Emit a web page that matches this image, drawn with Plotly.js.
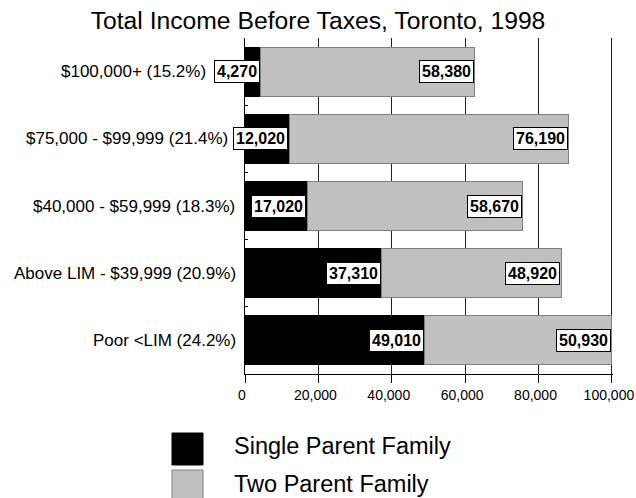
<!DOCTYPE html>
<html>
<head>
<meta charset="utf-8">
<script src="https://cdn.plot.ly/plotly-3.0.1.min.js"></script>
<style>html,body{margin:0;padding:0;background:#fff;}</style>
</head>
<body>
<div id="chart" style="width:636px;height:498px;"></div>
<script>
// Data (top to bottom as in the reference)
const categories = ['$100,000+ (15.2%)', '$75,000 - $99,999 (21.4%)', '$40,000 - $59,999 (18.3%)', 'Above LIM - $39,999 (20.9%)', 'Poor <LIM (24.2%)'];
const singleParent = [4270, 12020, 17020, 37310, 49010];
const twoParent = [58380, 76190, 58670, 48920, 50930];
const seriesNames = ['Single Parent Family', 'Two Parent Family'];
const chartTitle = 'Total Income Before Taxes, Toronto, 1998';
const xTickValues = [0, 20000, 40000, 60000, 80000, 100000];

// layout-only: where each category label ends, in pixels left of the axis
const labelShift = [-38, -16, -9, -8, -8];

const FONT = 'Liberation Sans, Arial, sans-serif';
const esc = s => s.replace(/&/g, '&amp;').replace(/</g, '&lt;').replace(/>/g, '&gt;');
const cats = categories.map(esc);
const fmt = v => v.toLocaleString('en-US');

const traces = [
  {type: 'bar', orientation: 'h', name: seriesNames[0], y: cats, x: singleParent,
   marker: {color: '#000000', line: {color: '#000000', width: 1}}, hoverinfo: 'x+y'},
  {type: 'bar', orientation: 'h', name: seriesNames[1], y: cats, x: twoParent,
   marker: {color: '#c0c0c0', line: {color: '#7f7f7f', width: 1}}, hoverinfo: 'x+y'}
];

const ann = [];
const lblFont = {family: FONT, size: 16, color: '#000'};
categories.forEach((c, i) => {
  // category label
  ann.push({x: 0, xref: 'paper', y: cats[i], yref: 'y', text: cats[i], showarrow: false,
    xanchor: 'right', yanchor: 'middle', xshift: labelShift[i], borderpad: 0,
    font: {family: FONT, size: 17, color: '#000'}});
  ann.push({x: singleParent[i], y: cats[i], xref: 'x', yref: 'y', text: '<b>' + fmt(singleParent[i]) + '</b>',
    showarrow: false, xanchor: 'right', yanchor: 'middle', xshift: -1, font: lblFont,
    bgcolor: '#ffffff', bordercolor: '#000000', borderwidth: 1, borderpad: 2});
  ann.push({x: singleParent[i] + twoParent[i], y: cats[i], xref: 'x', yref: 'y', text: '<b>' + fmt(twoParent[i]) + '</b>',
    showarrow: false, xanchor: 'right', yanchor: 'middle', xshift: -1, font: lblFont,
    bgcolor: '#ffffff', bordercolor: '#000000', borderwidth: 1, borderpad: 2});
});

// custom legend (large swatches)
const legX0 = -0.1984, legX1 = -0.1141, legTextX = -0.0353;
const legY = [[-0.1756, -0.2708], [-0.2857, -0.381]];
const legTextY = [-0.2143, -0.3274];
const swatch = [{fill: '#000000', line: '#000000'}, {fill: '#c0c0c0', line: '#7f7f7f'}];
const shapes = [];
seriesNames.forEach((n, i) => {
  shapes.push({type: 'rect', xref: 'paper', yref: 'paper', x0: legX0, x1: legX1, y0: legY[i][0], y1: legY[i][1],
    fillcolor: swatch[i].fill, line: {color: swatch[i].line, width: 1}});
  ann.push({xref: 'paper', yref: 'paper', x: legTextX, y: legTextY[i], text: n, showarrow: false,
    xanchor: 'left', yanchor: 'middle', font: {family: FONT, size: 23.5, color: '#000'}});
});

const layout = {
  width: 636, height: 498,
  margin: {l: 245, r: 23, t: 38, b: 124, pad: 0},
  paper_bgcolor: '#ffffff', plot_bgcolor: '#ffffff',
  barmode: 'stack', bargap: 0.27,
  showlegend: false,
  title: {text: chartTitle, x: 0.5, xanchor: 'center', y: 0.959, yanchor: 'middle',
    font: {family: FONT, size: 24.7, color: '#000'}},
  xaxis: {range: [0, 100300], tickvals: xTickValues, tickformat: ',d', showgrid: true, gridcolor: '#222222', gridwidth: 1,
    zeroline: false, showline: true, linecolor: '#000', linewidth: 1, ticks: 'outside', ticklen: 8, tickcolor: '#000',
    ticklabeloverflow: 'allow', ticklabelshift: -3,
    tickfont: {family: FONT, size: 14, color: '#000'}, fixedrange: true},
  yaxis: {autorange: 'reversed', type: 'category', showgrid: false, zeroline: false, showline: true, linecolor: '#000', linewidth: 1,
    ticks: 'inside', ticklen: 3, tickcolor: '#000', tickson: 'boundaries', showticklabels: false, fixedrange: true},
  annotations: ann,
  shapes: shapes
};

Plotly.newPlot('chart', traces, layout, {displayModeBar: false, staticPlot: true});
</script>
</body>
</html>
